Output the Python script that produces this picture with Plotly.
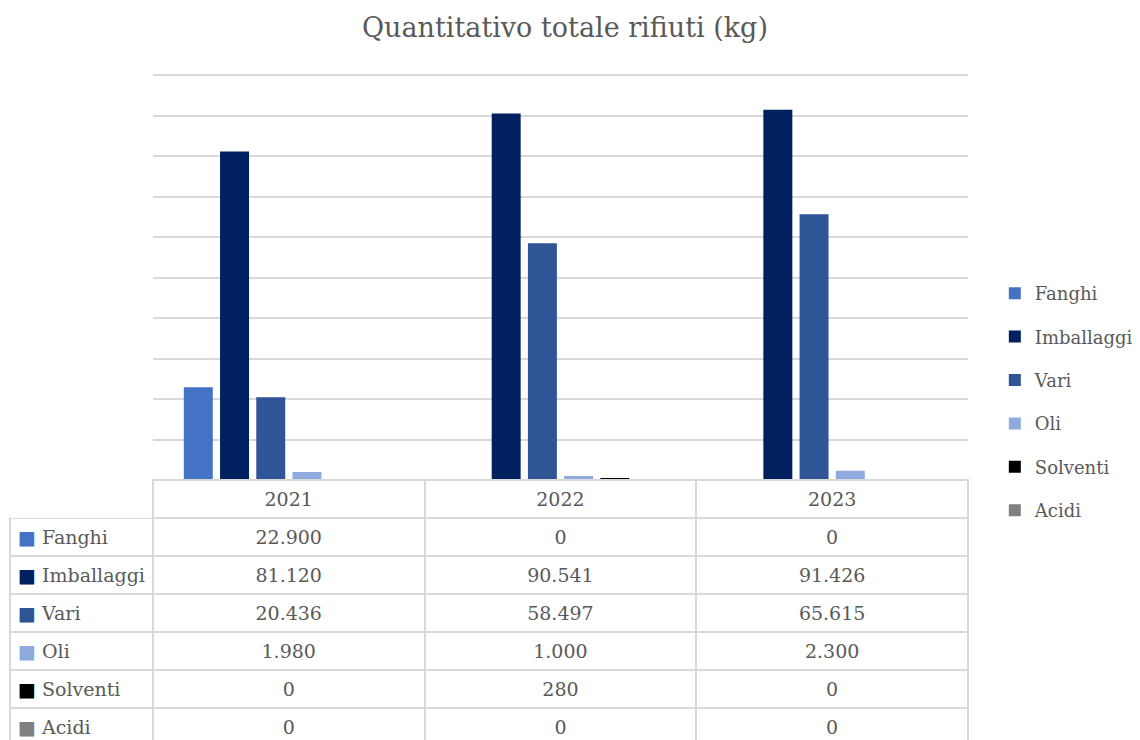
import plotly.graph_objects as go

years = ['2021', '2022', '2023']
series_names = ['Fanghi', 'Imballaggi', 'Vari', 'Oli', 'Solventi', 'Acidi']
fanghi = [22900, 0, 0]
imballaggi = [81120, 90541, 91426]
vari = [20436, 58497, 65615]
oli = [1980, 1000, 2300]
solventi = [0, 280, 0]
acidi = [0, 0, 0]
colors = ['#4472C4', '#002060', '#2F5597', '#8FAADC', '#000000', '#808080']

values = [fanghi, imballaggi, vari, oli, solventi, acidi]

font_family = 'DejaVu Serif'
text_color = '#595959'
grid_color = '#D9D9D9'


def fmt(v):
    # italian thousands separator, trailing <br> keeps the table from re-wrapping
    return '{:,}'.format(v).replace(',', '.') + '<br>'


fig = go.Figure()

for i, (name, vals) in enumerate(zip(series_names, values)):
    fig.add_trace(go.Bar(x=years, y=vals, name=name,
                         marker={'color': colors[i], 'line': {'width': 0}},
                         legendgroup=name))

# data table under the chart
row_labels = ['<span style="color:{}">■</span> {}<br>'.format(c, n) for c, n in zip(colors, series_names)]
columns = [row_labels] + [[fmt(vals[j]) for vals in values] for j in range(len(years))]

fig.add_trace(go.Table(domain={'x': [0, 1], 'y': [0, 0.38633]},
                       columnwidth=[143, 272, 272, 272],
                       header={'values': [''] + [y + '<br>' for y in years],
                               'align': 'center',
                               'height': 38,
                               'fill': {'color': 'white'},
                               'line': {'color': ['rgba(0,0,0,0)', grid_color, grid_color, grid_color], 'width': 2},
                               'font': {'family': font_family, 'size': 19, 'color': text_color}},
                       cells={'values': columns,
                              'align': ['left', 'center', 'center', 'center'],
                              'height': 38,
                              'fill': {'color': 'white'},
                              'line': {'color': grid_color, 'width': 2},
                              'font': {'family': font_family, 'size': 19, 'color': text_color}}))

fig.update_layout(width=1132, height=732,
                  margin={'l': 2, 'r': 172, 't': 59, 'b': 0},
                  paper_bgcolor='white', plot_bgcolor='white',
                  title={'text': 'Quantitativo totale rifiuti (kg)', 'x': 0.492, 'xanchor': 'center',
                         'xref': 'container', 'y': 0.973, 'yanchor': 'middle',
                         'font': {'family': font_family, 'size': 27, 'color': text_color}},
                  barmode='group', bargap=0.2, bargroupgap=0.2,
                  showlegend=True,
                  legend={'x': 1.028, 'y': 0.5022, 'xanchor': 'left', 'yanchor': 'middle',
                          'traceorder': 'grouped', 'tracegroupgap': 17,
                          'font': {'family': font_family, 'size': 18, 'color': text_color}})

fig.update_xaxes(domain=[0.1493, 1], showticklabels=False, showgrid=False, showline=False, zeroline=False)
fig.update_yaxes(domain=[0.38633, 1], range=[0, 102000], dtick=10000, showticklabels=False,
                 gridcolor=grid_color, gridwidth=2, zeroline=False, showline=False)

fig.write_html('out.html')
